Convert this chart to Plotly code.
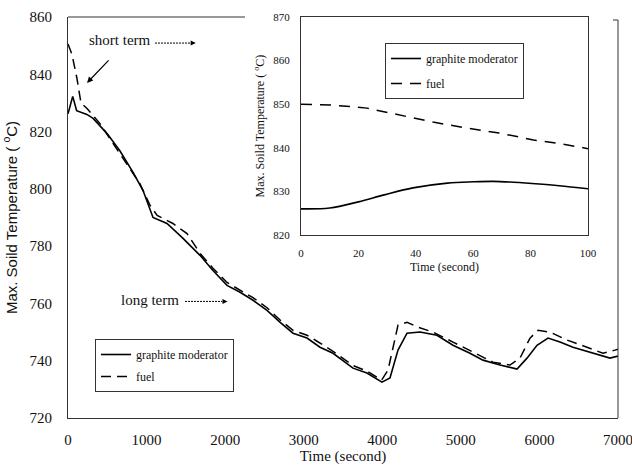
import plotly.graph_objects as go

# ---------------- data ----------------
# long-term (main plot)
t_mod = [0, 60, 110, 180, 240, 320, 500, 660, 830, 955, 1082, 1260, 1464, 1680, 1845, 2024,
         2190, 2355, 2533, 2700, 2864, 3042, 3207, 3373, 3627, 3805, 3996, 4098, 4200, 4315,
         4480, 4696, 4900, 5116, 5282, 5498, 5715, 5842, 5969, 6109, 6262, 6427, 6644, 6898, 7000]
T_mod = [826.2, 832.3, 827.3, 826.6, 826.0, 824.6, 819.2, 813.3, 805.7, 799.4, 790.0, 787.9,
         782.7, 776.8, 771.5, 766.3, 763.9, 761.1, 757.6, 753.4, 749.6, 747.9, 744.7, 742.6,
         737.4, 735.7, 732.5, 734.0, 743.7, 749.6, 750.0, 748.9, 745.4, 742.6, 740.2, 738.5,
         737.1, 740.9, 745.4, 747.9, 746.5, 744.7, 743.0, 740.9, 741.6]

t_fuel = [0, 50, 115, 165, 245, 320, 410, 575, 750, 915, 1045, 1135, 1335, 1515, 1680, 1845,
          2024, 2190, 2355, 2533, 2700, 2864, 3042, 3169, 3373, 3627, 3805, 3990, 4073, 4200,
          4315, 4455, 4645, 4900, 5155, 5409, 5625, 5753, 5880, 5982, 6135, 6351, 6605, 6809,
          6962, 7000]
T_fuel = [850.6, 847.0, 838.4, 830.0, 828.0, 825.5, 822.7, 815.8, 808.8, 801.8, 794.2, 790.7,
          787.9, 784.4, 777.5, 772.3, 767.3, 764.6, 762.0, 758.5, 754.2, 750.6, 748.9, 746.8,
          743.3, 738.3, 736.4, 733.2, 736.7, 752.4, 753.4, 751.7, 750.0, 746.5, 743.0, 739.5,
          738.5, 740.9, 747.9, 750.6, 750.0, 747.2, 744.7, 742.6, 743.7, 744.0]

# short-term (inset)
s_mod = [0, 10, 20, 29, 39, 51, 60, 67, 74, 83, 90, 100]
S_mod = [826.0, 826.2, 827.6, 829.2, 830.8, 831.9, 832.2, 832.3, 832.1, 831.7, 831.3, 830.6]

s_fuel = [0, 11, 23, 34.5, 46, 58, 69, 81, 90, 100]
S_fuel = [850.0, 849.8, 849.1, 847.5, 845.9, 844.5, 843.4, 841.8, 841.0, 839.8]

x_ticks_main = [0, 1000, 2000, 3000, 4000, 5000, 6000, 7000]
y_ticks_main = [720, 740, 760, 780, 800, 820, 840, 860]
x_ticks_inset = [0, 20, 40, 60, 80, 100]
y_ticks_inset = [820, 830, 840, 850, 860, 870]

SERIF = "serif"
SANS = "Liberation Sans"

fig = go.Figure()

# main traces
fig.add_trace(go.Scatter(x=t_mod, y=T_mod, mode="lines", name="graphite moderator",
                         line=dict(color="black", width=1.6), xaxis="x", yaxis="y",
                         legend="legend", legendgroup="a"))
fig.add_trace(go.Scatter(x=t_fuel, y=T_fuel, mode="lines", name="fuel",
                         line=dict(color="black", width=1.5, dash="10px,6px"),
                         xaxis="x", yaxis="y", legend="legend", legendgroup="b"))
# inset traces
fig.add_trace(go.Scatter(x=s_mod, y=S_mod, mode="lines", name="graphite moderator",
                         line=dict(color="black", width=1.6, shape="spline"),
                         xaxis="x2", yaxis="y2", legend="legend2", legendgroup="c"))
fig.add_trace(go.Scatter(x=s_fuel, y=S_fuel, mode="lines", name="fuel",
                         line=dict(color="black", width=1.5, dash="11px,8px"),
                         xaxis="x2", yaxis="y2", legend="legend2", legendgroup="d"))

W, H = 632, 470
def px(v):
    return v / W
def py(v):
    return 1 - v / H

axis_common = dict(showgrid=False, zeroline=False, ticks="",
                   ticklabeloverflow="allow")

fig.update_layout(
    width=W, height=H,
    margin=dict(l=0, r=0, t=0, b=0),
    paper_bgcolor="white", plot_bgcolor="rgba(0,0,0,0)",
    font=dict(family=SERIF, color="#111", size=14),
    xaxis=dict(domain=[px(68), px(618)], range=[0, 7000], tickvals=x_ticks_main,
               showline=True, linecolor="#333", linewidth=1, anchor="y",
               tickfont=dict(size=15, family=SERIF, color="#111"), ticklabelstandoff=8,
               title=dict(text="Time (second)", font=dict(size=15, family=SERIF, color="#111"),
                          standoff=0),
               automargin=False, **axis_common),
    yaxis=dict(domain=[py(418), py(17)], range=[720, 860], tickvals=y_ticks_main,
               showline=True, linecolor="#333", linewidth=1, anchor="x",
               tickfont=dict(size=15, family=SERIF, color="#111"), ticklabelstandoff=12,
               title=dict(text="Max. Soild Temperature ( <sup>o</sup>C)",
                          font=dict(size=15, family=SANS, color="#111"), standoff=8),
               automargin=False, **axis_common),
    xaxis2=dict(domain=[px(301), px(588)], range=[0, 100], tickvals=x_ticks_inset,
                showline=True, mirror=True, linecolor="#333", linewidth=1, anchor="y2",
                tickfont=dict(size=11, family=SERIF, color="#111"), ticklabelstandoff=8,
                title=dict(text="Time (second)", font=dict(size=12, family=SERIF, color="#111"),
                           standoff=4),
                automargin=False, **axis_common),
    yaxis2=dict(domain=[py(235), py(17)], range=[820, 870], tickvals=y_ticks_inset,
                showline=True, mirror=True, linecolor="#333", linewidth=1, anchor="x2",
                tickfont=dict(size=11, family=SERIF, color="#111"), ticklabelstandoff=8,
                title=dict(text="Max. Soild Temperature ( <sup>o</sup>C)",
                           font=dict(size=12, family=SERIF, color="#111"), standoff=6),
                automargin=False, **axis_common),
    legend=dict(x=px(95), y=py(339), xanchor="left", yanchor="top",
                bgcolor="white", bordercolor="#333", borderwidth=1,
                font=dict(size=12, family=SERIF, color="#111"), traceorder="grouped",
                tracegroupgap=3),
    legend2=dict(x=px(385), y=py(43), xanchor="left", yanchor="top",
                 bgcolor="white", bordercolor="#333", borderwidth=1,
                 font=dict(size=12, family=SERIF, color="#111"), traceorder="grouped",
                 tracegroupgap=6),
    showlegend=True,
)

# main frame: top border partially (inset chart area covers the rest) and right border
frame = dict(color="#333", width=1)
fig.add_shape(type="line", xref="x domain", yref="y domain", x0=0, x1=(245 - 68) / 550,
              y0=1, y1=1, line=frame)
fig.add_shape(type="line", xref="x domain", yref="y domain", x0=1, x1=1,
              y0=0, y1=1 - 3 / 401, line=frame)
fig.add_shape(type="line", xref="x domain", yref="y domain", x0=1 - 5 / 550, x1=1,
              y0=1 - 3 / 401, y1=1 - 3 / 401, line=frame)

# annotations
fig.add_annotation(x=662, y=852.0, xref="x", yref="y", text="short term", showarrow=False,
                   font=dict(size=15, family=SERIF, color="#111"))
fig.add_shape(type="line", xref="x", yref="y", x0=1107, x1=1560, y0=850.9, y1=850.9,
              line=dict(color="black", width=1, dash="2px,1px"))
fig.add_annotation(x=1625, y=850.9, ax=1545, ay=850.9, xref="x", yref="y", axref="x",
                   ayref="y", text="", showarrow=True, arrowhead=2, arrowsize=1,
                   arrowwidth=1, arrowcolor="black")
fig.add_annotation(x=242, y=837.0, ax=535, ay=845.4, xref="x", yref="y", axref="x",
                   ayref="y", text="", showarrow=True, arrowhead=2, arrowsize=1,
                   arrowwidth=1.2, arrowcolor="black")

fig.add_annotation(x=1044, y=761.1, xref="x", yref="y", text="long term", showarrow=False,
                   font=dict(size=15, family=SERIF, color="#111"))
fig.add_shape(type="line", xref="x", yref="y", x0=1489, x1=1960, y0=760.7, y1=760.7,
              line=dict(color="black", width=1, dash="2px,1px"))
fig.add_annotation(x=2030, y=760.7, ax=1950, ay=760.7, xref="x", yref="y", axref="x",
                   ayref="y", text="", showarrow=True, arrowhead=2, arrowsize=1,
                   arrowwidth=1, arrowcolor="black")

fig.write_html("out.html")
